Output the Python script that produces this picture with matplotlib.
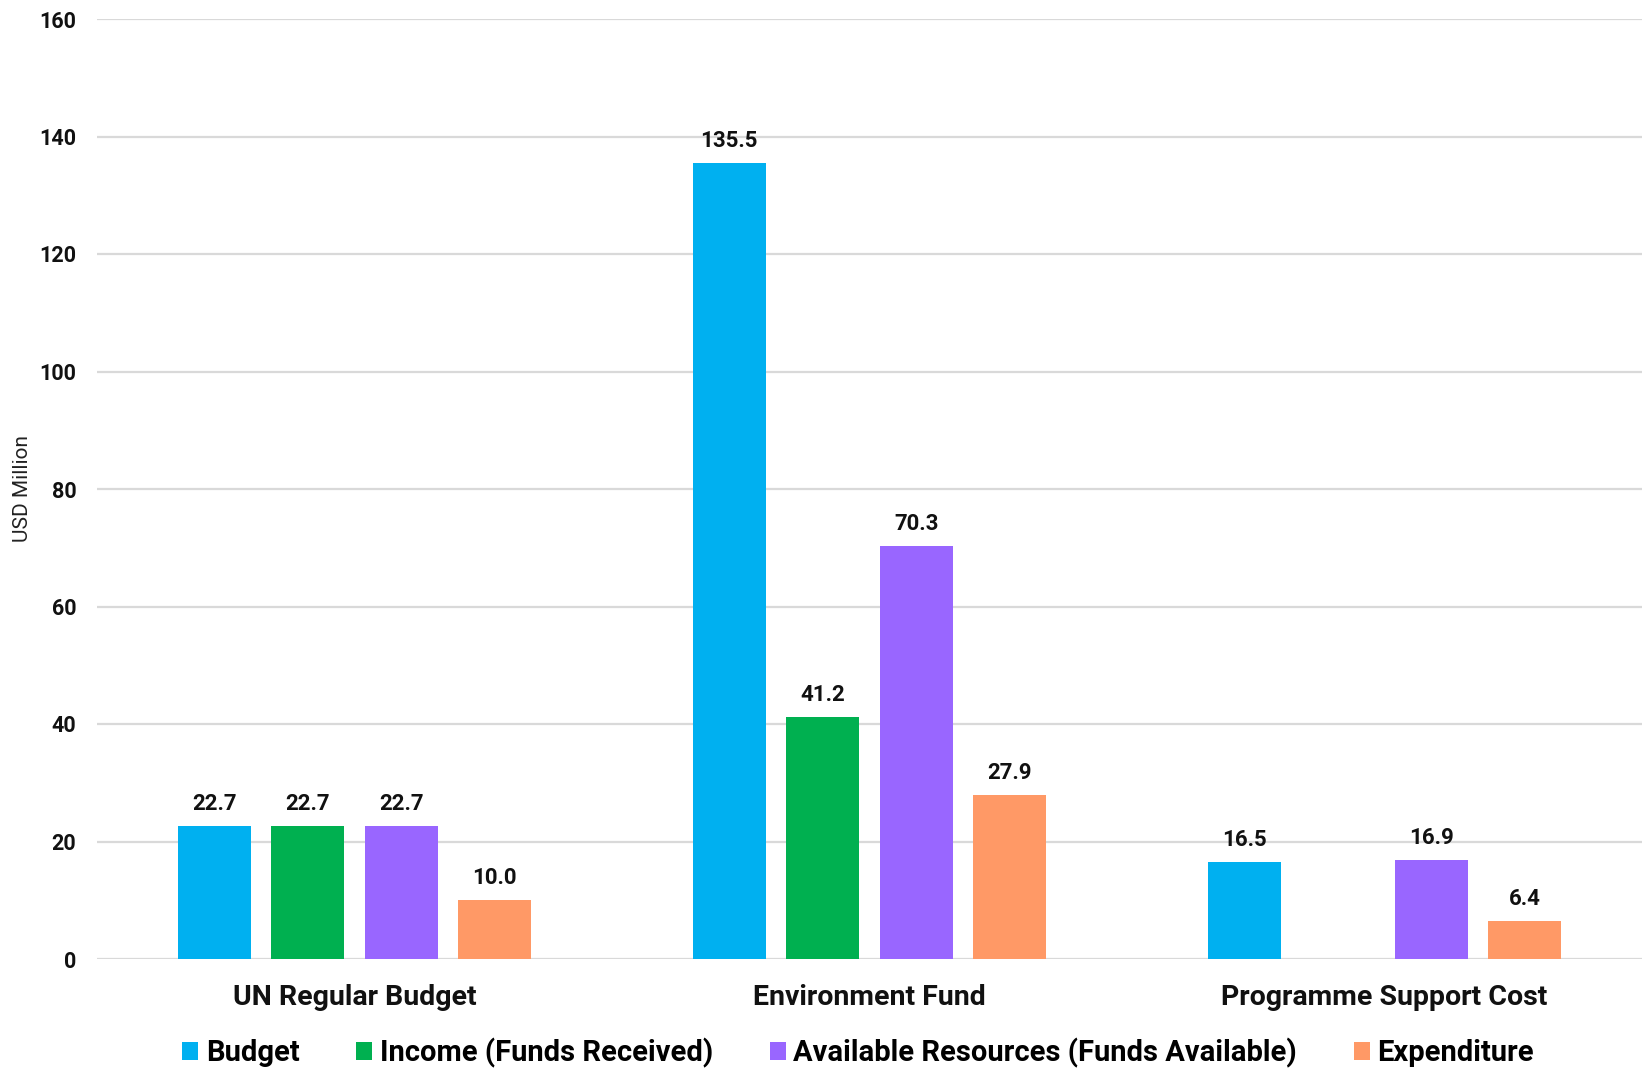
import numpy as np
import matplotlib
matplotlib.use("Agg")
import matplotlib.pyplot as plt
from matplotlib.patches import Patch

plt.rcParams['font.family'] = ['Roboto', 'DejaVu Sans']

categories = ["UN Regular Budget", "Environment Fund", "Programme Support Cost"]
series_names = ["Budget", "Income (Funds Received)",
                "Available Resources (Funds Available)", "Expenditure"]
budget = [22.7, 135.5, 16.5]
income = [22.7, 41.2, np.nan]
available = [22.7, 70.3, 16.9]
expenditure = [10.0, 27.9, 6.4]
series_values = [budget, income, available, expenditure]
colors = ["#00B0F0", "#00B050", "#9966FF", "#FF9966"]
yticks = [0, 20, 40, 60, 80, 100, 120, 140, 160]

fig = plt.figure(figsize=(16.42, 10.69), dpi=100)
ax = fig.add_axes([97/1642, 1 - 959/1069, 1 - 97/1642, (959 - 19)/1069])

x = np.arange(len(categories))
step = 0.1815
width = 0.142
for i, (name, vals, col) in enumerate(zip(series_names, series_values, colors)):
    offs = (i - 1.5) * step
    bars = ax.bar(x + offs, vals, width=width, color=col, label=name, zorder=3)
    labels = ["" if (v is None or np.isnan(v)) else f"{v:.1f}" for v in vals]
    ax.bar_label(bars, labels=labels, padding=8, fontsize=16, fontweight='bold',
                 color='#111111')

ax.set_xlim(-0.5, 2.5)
ax.set_ylim(0, 160)
ax.set_yticks(yticks)
ax.set_yticklabels([str(t) for t in yticks], fontsize=15.5, fontweight='bold')
ax.set_xticks(x)
ax.set_xticklabels(categories, fontsize=20.5, fontweight='bold')
ax.tick_params(axis='y', length=0, pad=15, colors='#111111')
ax.tick_params(axis='x', length=0, pad=18, colors='#111111')
for s in ax.spines.values():
    s.set_visible(False)
ax.yaxis.grid(True, color='#D9D9D9', linewidth=1.6, zorder=0)
ax.set_axisbelow(True)

ax.set_ylabel("USD Million", fontsize=15, color='#222222')
ax.yaxis.set_label_coords(-0.042, 0.5)

handles = [Patch(facecolor=c, edgecolor='none') for c in colors]
leg = fig.legend(handles, series_names, loc='center', bbox_to_anchor=(858/1642, 1 - 1053/1069),
                 ncol=4, frameon=False, prop={'family': ['Roboto', 'DejaVu Sans'], 'weight': 'bold', 'size': 21},
                 handlelength=0.55, handleheight=0.55, handletextpad=0.25, columnspacing=1.95,
                 borderpad=0, borderaxespad=0)

fig.savefig("out.png", dpi=100)
